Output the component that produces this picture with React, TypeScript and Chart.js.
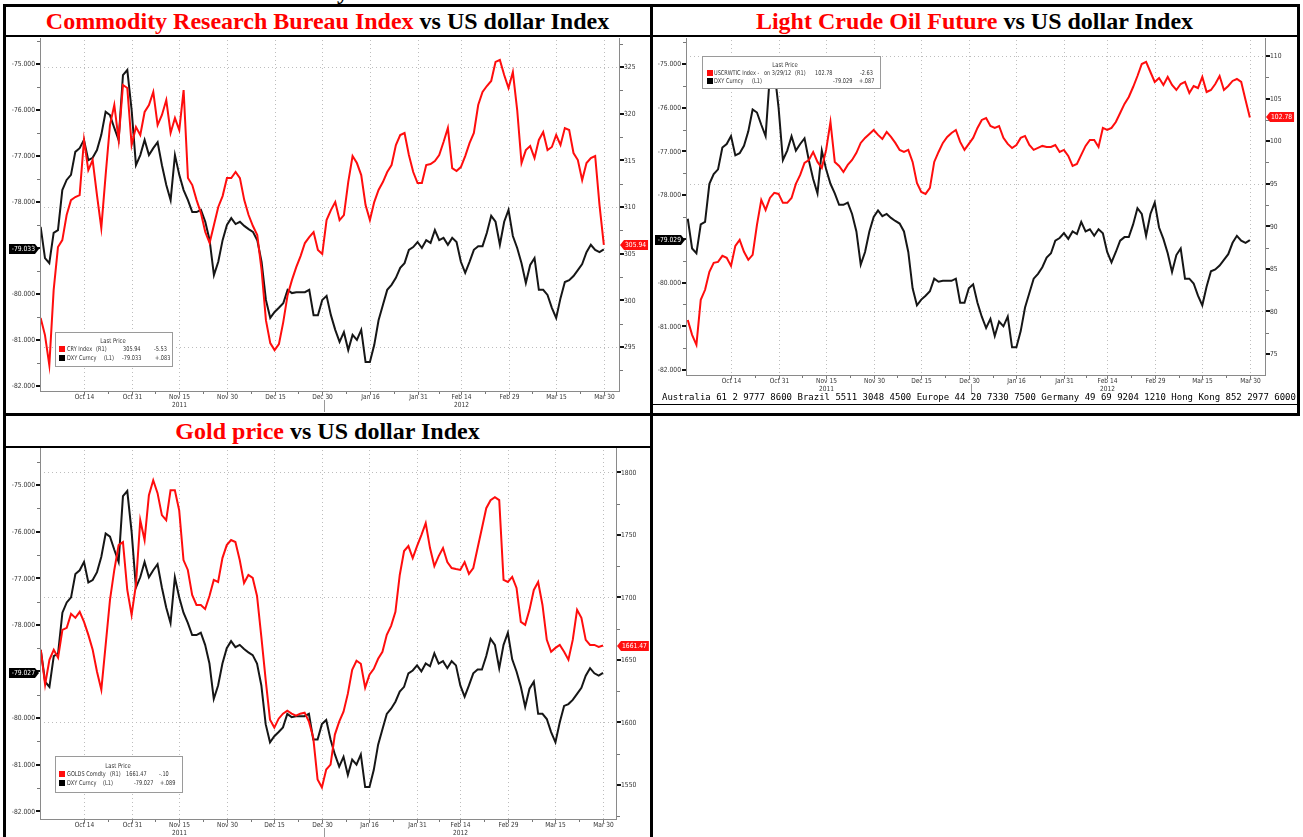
import React, { useEffect, useRef } from 'react';
import { Chart, registerables } from 'chart.js';

Chart.register(...registerables);

// weekday index: 0 = Mon 3 Oct 2011; first value is Fri 30 Sep 2011
const FIRST_INDEX = -1;

const DXY_VALUES = [
  -78.54, -79.22, -79.33, -78.67, -78.61, -77.74, -77.52, -77.41, -76.91, -76.83,
  -76.65, -77.09, -77.04, -76.87, -76.54, -76.04, -76.11, -76.39, -76.65, -75.24,
  -75.13, -76.0, -77.2, -76.98, -76.65, -76.98, -76.83, -76.7, -77.2, -77.63,
  -77.96, -76.98, -77.41, -77.74, -77.96, -78.22, -78.22, -78.17, -78.43, -78.83,
  -79.59, -79.3, -78.83, -78.5, -78.35, -78.48, -78.43, -78.52, -78.59, -78.65,
  -78.83, -79.3, -80.13, -80.52, -80.39, -80.3, -80.2, -79.91, -79.98, -79.96,
  -79.96, -79.96, -79.91, -80.46, -80.46, -80.13, -80.04, -80.46, -80.78, -81.04,
  -80.83, -81.22, -80.89, -81.0, -80.78, -81.48, -81.48, -81.11, -80.57, -80.24,
  -79.91, -79.8, -79.65, -79.43, -79.33, -79.04, -78.98, -78.87, -79.0, -78.83,
  -78.89, -78.61, -78.83, -78.78, -78.93, -78.78, -78.87, -79.3, -79.54, -79.3,
  -79.04, -78.96, -78.96, -78.67, -78.3, -78.43, -78.93, -78.43, -78.17, -78.74,
  -79.0, -79.33, -79.76, -79.37, -79.22, -79.91, -79.91, -80.02, -80.3, -80.52,
  -80.09, -79.74, -79.7, -79.61, -79.48, -79.35, -79.09, -78.93, -79.04, -79.09, -79.03,
];

const CRY_VALUES = [
  298.1, 296.28, 293.06, 301.1, 305.71, 306.46, 309.14, 310.74, 311.07, 311.28,
  317.18, 313.96, 315.03, 311.28, 307.74, 313.42, 318.78, 320.93, 317.18, 323.07,
  322.75, 316.64, 318.57, 317.71, 320.18, 320.93, 322.32, 318.78, 319.86, 321.46,
  317.93, 319.53, 318.25, 322.53, 313.1, 312.35, 310.74, 309.35, 307.32, 306.14,
  308.07, 310.0, 311.17, 313.1, 313.1, 313.75, 313.1, 310.74, 309.14, 307.96,
  307.0, 303.24, 297.88, 295.42, 294.67, 295.31, 297.67, 300.56, 302.17, 303.56,
  304.74, 306.14, 306.78, 307.32, 305.39, 304.96, 308.6, 309.67, 310.53, 308.6,
  309.14, 312.67, 315.46, 314.71, 313.42, 310.21, 308.6, 310.53, 311.82, 312.67,
  313.75, 314.5, 316.64, 317.71, 317.93, 315.57, 313.75, 312.57, 312.57, 314.5,
  314.6, 314.92, 315.57, 316.96, 318.46, 314.17, 313.85, 314.28, 315.46, 316.85,
  317.93, 320.93, 322.32, 322.96, 323.5, 325.54, 325.75, 324.14, 322.75, 324.46,
  320.39, 314.71, 316.1, 316.53, 315.25, 317.18, 318.03, 316.1, 316.43, 317.71,
  316.64, 318.46, 318.25, 315.78, 315.03, 312.89, 314.71, 315.25, 315.46, 310.21, 305.94,
];

const OIL_VALUES = [
  79.0, 77.25, 76.08, 81.36, 82.54, 84.65, 85.7, 85.82, 86.53, 86.29,
  85.35, 87.7, 88.4, 87.0, 86.06, 86.64, 90.16, 93.1, 91.92, 93.33,
  93.92, 93.8, 92.75, 92.75, 93.33, 94.98, 96.03, 97.44, 97.79, 98.73,
  97.56, 96.85, 98.97, 102.25, 97.56, 97.09, 96.38, 97.21, 97.79, 98.62,
  99.79, 100.38, 100.85, 101.31, 100.73, 100.26, 101.08, 100.49, 99.79, 98.97,
  98.73, 98.97, 97.56, 95.09, 94.04, 93.8, 94.51, 97.56, 98.73, 99.79,
  100.49, 100.96, 101.31, 99.91, 98.97, 99.67, 100.38, 101.55, 102.49, 102.72,
  101.78, 101.55, 101.78, 100.38, 99.67, 99.2, 99.55, 100.38, 100.61, 99.55,
  98.97, 99.2, 99.44, 99.32, 99.32, 99.55, 98.73, 98.97, 98.26, 97.09,
  97.32, 98.38, 99.44, 100.14, 100.14, 99.32, 101.55, 101.31, 101.55, 102.25,
  103.31, 104.37, 105.19, 106.36, 107.65, 109.06, 109.3, 108.12, 106.95, 107.42,
  106.6, 107.54, 106.6, 106.01, 106.71, 106.95, 105.66, 106.48, 106.24, 107.54,
  105.77, 106.01, 106.71, 107.65, 106.01, 106.48, 107.07, 107.3, 106.95, 104.84, 102.78,
];

const GOLD_VALUES = [
  1658.1, 1630.1, 1650.1, 1658.1, 1651.7, 1674.0, 1675.6, 1686.8, 1683.6, 1688.4,
  1680.4, 1670.0, 1658.1, 1640.5, 1626.2, 1662.0, 1697.9, 1721.9, 1741.8, 1744.2,
  1705.9, 1686.0, 1709.9, 1761.7, 1745.8, 1781.7, 1793.6, 1783.3, 1765.7, 1761.7,
  1785.6, 1785.6, 1769.7, 1729.8, 1721.9, 1701.9, 1693.9, 1693.9, 1690.7, 1701.1,
  1713.9, 1712.3, 1731.4, 1741.8, 1745.8, 1744.2, 1729.8, 1711.5, 1717.9, 1715.5,
  1701.1, 1668.4, 1634.1, 1602.2, 1595.9, 1603.0, 1607.0, 1609.4, 1607.0, 1605.4,
  1607.0, 1607.8, 1600.6, 1587.9, 1554.4, 1548.0, 1562.4, 1566.3, 1590.3, 1600.6,
  1608.6, 1623.0, 1642.1, 1649.3, 1646.9, 1627.8, 1638.1, 1642.9, 1650.9, 1656.5,
  1670.0, 1677.2, 1688.4, 1717.9, 1737.0, 1741.0, 1731.4, 1741.0, 1749.8, 1759.3,
  1739.4, 1725.0, 1733.0, 1739.4, 1728.2, 1723.4, 1722.6, 1721.9, 1728.2, 1718.7,
  1723.4, 1739.4, 1755.3, 1771.3, 1777.7, 1780.1, 1777.7, 1713.9, 1712.3, 1716.3,
  1707.5, 1680.4, 1678.0, 1690.0, 1705.9, 1712.3, 1693.9, 1666.0, 1656.5, 1659.6,
  1662.0, 1656.5, 1650.1, 1666.0, 1690.0, 1683.6, 1666.0, 1662.0, 1662.0, 1660.4, 1661.47,
];

const X_TICK_INDEX = [9, 20, 31, 42, 53, 64, 75, 86, 96, 107, 118, 129];
const X_TICK_LABELS = ['Oct 14', 'Oct 31', 'Nov 15', 'Nov 30', 'Dec 15', 'Dec 30', 'Jan 16', 'Jan 31', 'Feb 14', 'Feb 29', 'Mar 15', 'Mar 30'];
const YEAR_TICK_INDEX = [31, 96];
const YEAR_LABELS = ['2011', '2012'];
const YEAR_BREAK_INDEX = 64.5;

const DXY_TICKS = [-82, -81, -80, -79, -78, -77, -76, -75];
const CRY_TICKS = [295, 300, 305, 310, 315, 320, 325];
const OIL_TICKS = [75, 80, 85, 90, 95, 100, 105, 110];
const GOLD_TICKS = [1550, 1600, 1650, 1700, 1750, 1800];
const CRY_GRID = [295, 310, 325];
const OIL_GRID = [80, 95, 110];
const GOLD_GRID = [1600, 1700, 1800];

const DXY_LAST_LABELS = ['-79.033', '-79.029', '-79.027'];
const RED_LAST_LABELS = ['305.94', '102.78', '1661.47'];

const FOOTER_TEXT = 'Australia 61 2 9777 8600 Brazil 5511 3048 4500 Europe 44 20 7330 7500 Germany 49 69 9204 1210 Hong Kong 852 2977 6000';

const SMALL_FONT = "'DejaVu Sans', sans-serif";
const RED = '#ff0d0d';

type LegendRow = { color: string; y: number; sq: number; items: [string, number][] };
type PanelCfg = {
  canvas: { l: number; t: number; w: number; h: number };
  plot: { l: number; t: number; r: number; b: number };
  xRange: [number, number];
  leftRange: [number, number];
  rightRange: [number, number];
  red: number[];
  rightTicks: number[];
  rightGrid: number[];
  rightMinorStep: number;
  dxyLast: string;
  redLast: string;
  legend: { x: number; y: number; w: number; h: number; headerX: number; headerY: number; rows: LegendRow[] };
};

const PANELS: PanelCfg[] = [
  {
    canvas: { l: 6, t: 38, w: 643, h: 374 },
    plot: { l: 40, t: 40, r: 619, b: 391 },
    xRange: [-1.15, 132.5],
    leftRange: [-82.109, -74.478],
    rightRange: [290.29, 327.89],
    red: CRY_VALUES,
    rightTicks: CRY_TICKS,
    rightGrid: CRY_GRID,
    rightMinorStep: 2.5,
    dxyLast: DXY_LAST_LABELS[0],
    redLast: RED_LAST_LABELS[0],
    legend: {
      x: 55, y: 332, w: 117, h: 34, headerX: 113, headerY: 341,
      rows: [
        { color: RED, y: 349, sq: 59, items: [['CRY Index', 67], ['(R1)', 96], ['305.94', 123], ['-5.53', 154]] },
        { color: '#000', y: 358, sq: 59, items: [['DXY Curncy', 67], ['(L1)', 104], ['-79.033', 122], ['+.083', 155]] },
      ],
    },
  },
  {
    canvas: { l: 653, t: 38, w: 644, h: 356 },
    plot: { l: 686, t: 40, r: 1265, b: 375 },
    xRange: [-1.41, 132.5],
    leftRange: [-82.114, -74.451],
    rightRange: [72.53, 111.88],
    red: OIL_VALUES,
    rightTicks: OIL_TICKS,
    rightGrid: OIL_GRID,
    rightMinorStep: 2.5,
    dxyLast: DXY_LAST_LABELS[1],
    redLast: RED_LAST_LABELS[1],
    legend: {
      x: 702, y: 56, w: 178, h: 32, headerX: 785, headerY: 65,
      rows: [
        { color: RED, y: 73, sq: 707, items: [['USCRWTIC Index -', 714], ['on 3/29/12', 764], ['(R1)', 795], ['102.78', 815], ['-2.63', 860]] },
        { color: '#000', y: 81, sq: 707, items: [['DXY Curncy', 714], ['(L1)', 752], ['-79.029', 833], ['+.087', 859]] },
      ],
    },
  },
  {
    canvas: { l: 6, t: 448, w: 643, h: 389 },
    plot: { l: 40, t: 450, r: 616, b: 819 },
    xRange: [-1.18, 132.0],
    leftRange: [-82.165, -74.25],
    rightRange: [1522.8, 1817.8],
    red: GOLD_VALUES,
    rightTicks: GOLD_TICKS,
    rightGrid: GOLD_GRID,
    rightMinorStep: 25,
    dxyLast: DXY_LAST_LABELS[2],
    redLast: RED_LAST_LABELS[2],
    legend: {
      x: 55, y: 756, w: 127, h: 36, headerX: 118, headerY: 766,
      rows: [
        { color: RED, y: 774, sq: 59, items: [['GOLDS Comdty', 67], ['(R1)', 110], ['1661.47', 126], ['-.10', 159]] },
        { color: '#000', y: 783, sq: 59, items: [['DXY Curncy', 67], ['(L1)', 103], ['-79.027', 134], ['+.089', 160]] },
      ],
    },
  },
];

// narrow text, like the terminal's condensed font
function drawText(ctx: CanvasRenderingContext2D, text: string, x: number, y: number, align: 'left' | 'center' | 'right', sx = 0.82) {
  const w = ctx.measureText(text).width * sx;
  let x0 = x;
  if (align === 'center') x0 = x - w / 2;
  else if (align === 'right') x0 = x - w;
  ctx.save();
  ctx.translate(x0, y);
  ctx.scale(sx, 1);
  ctx.textAlign = 'left';
  ctx.fillText(text, 0, 0);
  ctx.restore();
  return w;
}

function makeDecor(cfg: PanelCfg) {
  const ox = cfg.canvas.l;
  const oy = cfg.canvas.t;
  return {
    id: 'bbgDecor',
    beforeDatasetsDraw(chart: any) {
      const { ctx, chartArea: a, scales } = chart;
      ctx.save();
      ctx.strokeStyle = '#bdbdbd';
      ctx.lineWidth = 1;
      ctx.setLineDash([1, 3]);
      X_TICK_INDEX.forEach((v) => {
        const px = Math.round(scales.x.getPixelForValue(v)) + 0.5;
        ctx.beginPath();
        ctx.moveTo(px, a.top);
        ctx.lineTo(px, a.bottom);
        ctx.stroke();
      });
      cfg.rightGrid.forEach((v) => {
        const py = Math.round(scales.yR.getPixelForValue(v)) + 0.5;
        ctx.beginPath();
        ctx.moveTo(a.left, py);
        ctx.lineTo(a.right, py);
        ctx.stroke();
      });
      ctx.restore();
    },
    afterDraw(chart: any) {
      const { ctx, chartArea: a, scales } = chart;
      const yL = scales.yL;
      const yR = scales.yR;
      const x = scales.x;
      ctx.save();
      ctx.setLineDash([]);
      // axis lines
      ctx.strokeStyle = '#8a8a8a';
      ctx.lineWidth = 1;
      ctx.beginPath();
      ctx.moveTo(a.left + 0.5, a.top - 3);
      ctx.lineTo(a.left + 0.5, a.bottom + 1);
      ctx.moveTo(a.right + 0.5, a.top - 3);
      ctx.lineTo(a.right + 0.5, a.bottom + 1);
      ctx.moveTo(a.left, a.bottom + 0.5);
      ctx.lineTo(a.right, a.bottom + 0.5);
      ctx.stroke();

      ctx.font = `7px ${SMALL_FONT}`;
      ctx.textBaseline = 'middle';

      // left ticks + labels
      const [lmin, lmax] = cfg.leftRange;
      for (let v = Math.ceil(lmin * 2) / 2; v <= lmax + 1e-9; v += 0.5) {
        const py = Math.round(yL.getPixelForValue(v));
        if (Math.abs(v - Math.round(v)) < 1e-6) {
          ctx.fillStyle = '#111';
          ctx.fillRect(a.left - 4, py - 1, 4, 2);
        } else {
          ctx.fillStyle = '#777';
          ctx.fillRect(a.left - 3, py, 3, 1);
        }
      }
      ctx.fillStyle = '#333';
      DXY_TICKS.forEach((v) => {
        const py = yL.getPixelForValue(v);
        drawText(ctx, v.toFixed(3), a.left - 5, py + 0.5, 'right', 0.86);
      });

      // right ticks + labels
      const [rmin, rmax] = cfg.rightRange;
      const st = cfg.rightMinorStep;
      for (let v = Math.ceil(rmin / st) * st; v <= rmax + 1e-9; v += st) {
        const py = Math.round(yR.getPixelForValue(v));
        const major = Math.abs(v / (2 * st) - Math.round(v / (2 * st))) < 1e-6;
        if (major) {
          ctx.fillStyle = '#111';
          ctx.fillRect(a.right + 1, py - 1, 4, 2);
        } else {
          ctx.fillStyle = '#777';
          ctx.fillRect(a.right + 1, py, 3, 1);
        }
      }
      ctx.fillStyle = '#333';
      cfg.rightTicks.forEach((v) => {
        const py = yR.getPixelForValue(v);
        drawText(ctx, String(v), a.right + 5, py + 0.5, 'left', 0.86);
      });

      // x ticks + labels
      X_TICK_INDEX.forEach((v, i) => {
        const px = Math.round(x.getPixelForValue(v));
        ctx.fillStyle = '#777';
        ctx.fillRect(px, a.bottom + 1, 1, 3);
        if (i > 0) {
          const mid = Math.round(x.getPixelForValue((v + X_TICK_INDEX[i - 1]) / 2));
          ctx.fillRect(mid, a.bottom + 1, 1, 2);
        }
        ctx.fillStyle = '#333';
        drawText(ctx, X_TICK_LABELS[i], px + 0.5, a.bottom + 6, 'center', 0.84);
        const yi = YEAR_TICK_INDEX.indexOf(v);
        if (yi >= 0) drawText(ctx, YEAR_LABELS[yi], px + 0.5, a.bottom + 14, 'center', 0.84);
      });
      // year break
      ctx.fillStyle = '#9a9a9a';
      const yb = Math.round(x.getPixelForValue(YEAR_BREAK_INDEX));
      ctx.fillRect(yb, a.bottom + 9, 1, 12);

      // left badge
      const lv = DXY_VALUES[DXY_VALUES.length - 1];
      const ly = Math.round(yL.getPixelForValue(lv));
      ctx.fillStyle = '#000';
      ctx.beginPath();
      ctx.moveTo(a.left - 31, ly - 5);
      ctx.lineTo(a.left - 5, ly - 5);
      ctx.lineTo(a.left - 1, ly);
      ctx.lineTo(a.left - 5, ly + 5);
      ctx.lineTo(a.left - 31, ly + 5);
      ctx.closePath();
      ctx.fill();
      ctx.fillStyle = '#fff';
      drawText(ctx, cfg.dxyLast, a.left - 5, ly + 0.5, 'right', 0.86);
      // right badge
      const rv = cfg.red[cfg.red.length - 1];
      const ry = Math.round(yR.getPixelForValue(rv));
      const tw = ctx.measureText(cfg.redLast).width * 0.86;
      ctx.fillStyle = '#ff1010';
      ctx.beginPath();
      ctx.moveTo(a.right + 1, ry);
      ctx.lineTo(a.right + 5, ry - 5);
      ctx.lineTo(a.right + 8 + tw, ry - 5);
      ctx.lineTo(a.right + 8 + tw, ry + 5);
      ctx.lineTo(a.right + 5, ry + 5);
      ctx.closePath();
      ctx.fill();
      ctx.fillStyle = '#fff';
      drawText(ctx, cfg.redLast, a.right + 6, ry + 0.5, 'left', 0.86);

      // legend
      const lg = cfg.legend;
      ctx.fillStyle = '#fff';
      ctx.fillRect(lg.x - ox, lg.y - oy, lg.w, lg.h);
      ctx.strokeStyle = '#9a9a9a';
      ctx.strokeRect(lg.x - ox + 0.5, lg.y - oy + 0.5, lg.w, lg.h);
      ctx.font = `6.6px ${SMALL_FONT}`;
      ctx.fillStyle = '#333';
      drawText(ctx, 'Last Price', lg.headerX - ox, lg.headerY - oy, 'center', 0.8);
      lg.rows.forEach((row) => {
        ctx.fillStyle = row.color;
        ctx.fillRect(row.sq - ox, row.y - oy - 3, 6, 6);
        ctx.fillStyle = '#333';
        row.items.forEach(([t, tx]) => drawText(ctx, t, tx - ox, row.y - oy + 0.5, 'left', 0.76));
      });
      ctx.restore();
    },
  };
}

function Panel({ cfg }: { cfg: PanelCfg }) {
  const ref = useRef<HTMLCanvasElement | null>(null);
  useEffect(() => {
    const c = cfg.canvas;
    const p = cfg.plot;
    const leftW = p.l - c.l;
    const rightW = c.l + c.w - p.r;
    const padTop = p.t - c.t;
    const xH = c.t + c.h - p.b;
    const zeroPad = (s: any) => {
      s.paddingTop = 0;
      s.paddingBottom = 0;
      s.paddingLeft = 0;
      s.paddingRight = 0;
    };
    const chart = new Chart(ref.current as HTMLCanvasElement, {
      type: 'line',
      data: {
        datasets: [
          {
            label: 'red',
            data: cfg.red.map((v, i) => ({ x: FIRST_INDEX + i, y: v })),
            yAxisID: 'yR',
            borderColor: RED,
            borderWidth: 2,
            pointRadius: 0,
            tension: 0,
            order: 1,
          },
          {
            label: 'DXY',
            data: DXY_VALUES.map((v, i) => ({ x: FIRST_INDEX + i, y: v })),
            yAxisID: 'yL',
            borderColor: '#161616',
            borderWidth: 2,
            pointRadius: 0,
            tension: 0,
            order: 2,
          },
        ],
      },
      options: {
        animation: false,
        responsive: false,
        devicePixelRatio: 1,
        layout: { padding: { top: padTop, left: 0, right: 0, bottom: 0 } },
        plugins: { legend: { display: false }, tooltip: { enabled: false } },
        events: [],
        scales: {
          x: {
            type: 'linear',
            min: cfg.xRange[0],
            max: cfg.xRange[1],
            afterBuildTicks: (s: any) => {
              s.ticks = X_TICK_INDEX.map((v) => ({ value: v }));
            },
            afterFit: (s: any) => {
              s.height = xH;
              zeroPad(s);
            },
            grid: { display: false, drawTicks: false },
            border: { display: false },
            ticks: { display: false },
          },
          yL: {
            type: 'linear',
            position: 'left',
            min: cfg.leftRange[0],
            max: cfg.leftRange[1],
            afterBuildTicks: (s: any) => {
              s.ticks = DXY_TICKS.map((v) => ({ value: v }));
            },
            afterFit: (s: any) => {
              s.width = leftW;
              zeroPad(s);
            },
            grid: { display: false, drawTicks: false },
            border: { display: false },
            ticks: { display: false },
          },
          yR: {
            type: 'linear',
            position: 'right',
            min: cfg.rightRange[0],
            max: cfg.rightRange[1],
            afterBuildTicks: (s: any) => {
              s.ticks = cfg.rightTicks.map((v) => ({ value: v }));
            },
            afterFit: (s: any) => {
              s.width = rightW;
              zeroPad(s);
            },
            grid: { display: false, drawTicks: false },
            border: { display: false },
            ticks: { display: false },
          },
        },
      },
      plugins: [makeDecor(cfg)],
    } as any);
    return () => chart.destroy();
  }, [cfg]);
  const c = cfg.canvas;
  return (
    <canvas
      ref={ref}
      width={c.w}
      height={c.h}
      style={{ position: 'absolute', left: c.l, top: c.t, width: c.w, height: c.h, display: 'block' }}
    />
  );
}

const bar = (l: number, t: number, w: number, h: number) => (
  <div style={{ position: 'absolute', left: l, top: t, width: w, height: h, background: '#000' }} />
);

const titleStyle = (l: number, t: number, w: number, h: number): React.CSSProperties => ({
  position: 'absolute',
  left: l,
  top: t,
  width: w,
  height: h,
  display: 'flex',
  alignItems: 'center',
  justifyContent: 'center',
  fontFamily: "'Liberation Serif', 'Times New Roman', serif",
  fontWeight: 'bold',
  fontSize: 24,
  color: '#000',
  whiteSpace: 'nowrap',
});

export default function App() {
  return (
    <div style={{ position: 'absolute', left: 0, top: 0, width: 1303, height: 837, overflow: 'hidden', background: '#fff' }}>
      {PANELS.map((p, i) => (
        <Panel key={i} cfg={p} />
      ))}
      <div
        style={{
          position: 'absolute',
          left: 337,
          top: -21,
          lineHeight: '24px',
          fontFamily: "'Liberation Serif', 'Times New Roman', serif",
          fontWeight: 'bold',
          fontSize: 24,
          color: '#000',
        }}
      >
        y
      </div>
      <div style={titleStyle(5, 6, 645, 30)}>
        <span style={{ color: '#ff0000' }}>Commodity Research Bureau Index</span>&nbsp;vs US dollar Index
      </div>
      <div style={titleStyle(652, 6, 645, 30)}>
        <span style={{ color: '#ff0000' }}>Light Crude Oil Future</span>&nbsp;vs US dollar Index
      </div>
      <div style={titleStyle(5, 416, 645, 31)}>
        <span style={{ color: '#ff0000' }}>Gold price</span>&nbsp;vs US dollar Index
      </div>
      <div
        style={{
          position: 'absolute',
          left: 662,
          top: 391,
          height: 12,
          lineHeight: '12px',
          fontFamily: "'DejaVu Sans Mono', monospace",
          fontSize: 9,
          whiteSpace: 'pre',
          color: '#000',
        }}
      >
        {FOOTER_TEXT}
      </div>
      {bar(3, 4, 1297, 3)}
      {bar(3, 4, 3, 833)}
      {bar(650, 4, 3, 833)}
      {bar(1297, 4, 3, 412)}
      {bar(3, 35, 1297, 2)}
      {bar(653, 404, 644, 1)}
      {bar(3, 413, 1297, 3)}
      {bar(3, 446, 650, 2)}
    </div>
  );
}
